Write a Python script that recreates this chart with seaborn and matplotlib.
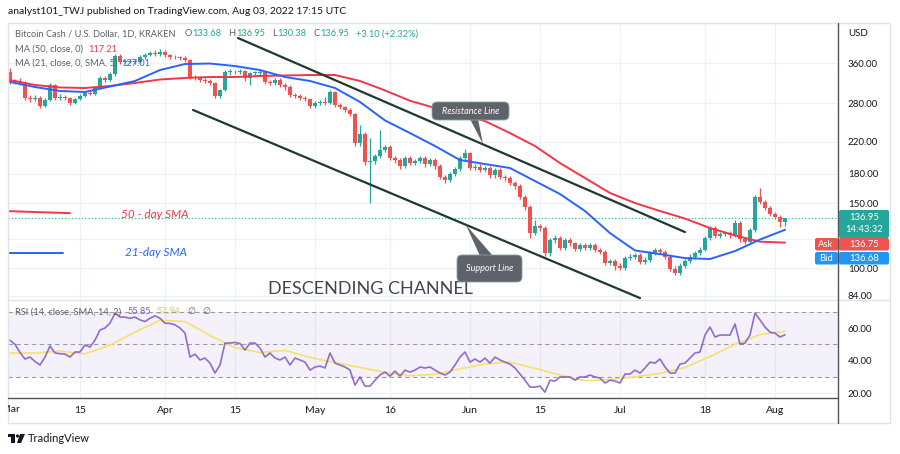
import numpy as np
import pandas as pd
import seaborn as sns
import matplotlib.pyplot as plt
from matplotlib.patches import FancyBboxPatch, Polygon, Rectangle, Circle
from matplotlib.lines import Line2D
from matplotlib.transforms import IdentityTransform, Bbox
from matplotlib.ticker import FixedLocator, NullLocator

# ---- data (BCH/USD daily) ----
start_date = '2022-03-01'
first_open = 340.4
closes = [
    319.8, 321.8, 317.8, 289.4, 287.6, 289.4, 275.3, 285.8, 313.8, 289.4,
    291.2, 289.4, 280.5, 287.6, 293.0, 298.5, 296.7, 308.0, 327.9, 323.8,
    336.1, 376.0, 362.3, 363.0, 364.5, 362.3, 373.7, 378.4, 383.2, 380.8,
    385.6, 378.4, 373.7, 373.0, 371.4, 366.8, 329.9, 328.0, 323.8, 321.8,
    317.8, 293.0, 304.2, 340.4, 341.0, 340.0, 342.5, 327.9, 338.2, 338.5,
    340.4, 319.8, 317.8, 323.8, 313.8, 309.9, 294.8, 293.0, 289.4, 287.6,
    275.3, 280.5, 282.2, 280.5, 300.4, 277.0, 273.6, 268.5, 261.9, 218.4,
    231.0, 193.9, 195.1, 201.3, 209.0, 213.0, 198.8, 196.4, 189.1, 198.8,
    192.7, 195.1, 198.8, 191.5, 196.4, 189.1, 176.6, 173.3, 179.9, 185.6,
    198.8, 205.1, 186.8, 188.0, 184.5, 186.8, 178.8, 184.5, 176.6, 175.5,
    170.1, 166.9, 155.8, 146.4, 124.4, 130.0, 128.4, 109.8, 119.1, 120.6,
    113.3, 119.1, 116.9, 112.6, 115.8, 113.3, 115.4, 111.9, 110.5, 103.1,
    104.4, 101.3, 100.0, 106.4, 107.1, 108.5, 103.8, 105.1, 109.8, 111.9,
    110.5, 107.1, 99.4, 96.9, 101.3, 104.4, 107.1, 109.8, 111.9, 120.6,
    128.4, 122.1, 123.6, 124.4, 122.9, 132.4, 119.8, 117.6, 126.8, 155.8,
    151.4, 145.5, 140.1, 137.9, 133.68, 136.95]
highs = [
    349, 326, 327, 322, 294, 294, 293, 289, 318, 316,
    296, 294, 292, 290, 296, 302, 303, 311, 331, 333,
    340, 381, 380, 368, 369, 369, 378, 383, 389, 390,
    392, 390, 382, 378, 377, 375, 369, 334, 331, 327,
    326, 320, 307, 344, 346, 345, 347, 345, 341, 343,
    345, 343, 323, 327, 327, 317, 313, 298, 296, 293,
    290, 284, 286, 291, 304, 303, 280, 276, 271, 264,
    244, 234, 225, 204, 237, 216, 216, 202, 199, 202,
    201, 198, 202, 201, 199, 199, 191, 179, 182, 188,
    201, 210, 207, 191, 191, 189, 189, 187, 187, 179,
    178, 172, 169, 158, 148, 135, 132, 130, 121, 123,
    122, 121, 121, 118, 117, 117, 117, 117, 113, 112,
    106, 106, 103, 108, 109, 110, 110, 107, 111.5, 113.5,
    113.5, 112, 108.5, 101, 103, 106, 109, 111.5, 114, 122.5,
    130, 130, 125.5, 126, 126, 135, 134, 121.5, 128.5, 158,
    165, 153, 147.5, 142, 139.5, 136.95]
lows = [
    315, 316, 313, 285, 283, 284, 271, 273, 284, 286,
    286, 285, 277, 278, 285, 291, 294, 294, 306, 320,
    321, 333, 358, 359, 359, 358, 359, 370, 375, 377,
    377, 374, 370, 369, 367, 362, 326, 324, 319, 317,
    313, 289, 290, 302, 334, 336, 336, 322, 313, 334,
    335, 316, 313, 314, 310, 305, 291, 289, 285, 284,
    271, 272, 277, 277, 278, 274, 270, 265, 258, 214,
    215, 190, 150, 192, 199, 206, 196, 193, 186, 187,
    190, 190, 193, 188, 189, 186, 174, 170, 171, 178,
    183, 196, 184, 184, 182, 182, 176, 176, 174, 172,
    168, 164, 154, 144, 121, 123, 126, 108, 108, 117,
    112, 112, 115, 111, 111, 112, 112, 110.5, 109, 102,
    102, 99, 98.8, 99, 105, 106, 102.5, 102.5, 104, 108.5,
    109, 105.5, 98, 95.5, 95.7, 100, 103, 106, 108.5, 111,
    119.5, 120.5, 120.5, 122, 121, 121.5, 118, 116, 116.5, 125.5,
    149, 143.5, 138.5, 135.5, 129, 130.38]

ma_days = list(range(0, 156, 5))
ma50 = [323.8, 313.8, 309.0, 308.0, 311.9, 317.8, 324.8, 327.9, 329.9, 329.9,
        332.0, 333.0, 334.0, 334.0, 321.8, 303.4, 284.4, 271.9, 261.9, 250.5,
        232.4, 214.3, 192.7, 175.5, 159.8, 150.1, 142.8, 136.2, 128.4, 122.6,
        117.9, 117.21]
ma21 = [319.8, 309.9, 302.3, 300.4, 310.9, 321.8, 344.6, 357.8, 358.9, 353.3,
        344.6, 329.9, 321.8, 308.0, 282.2, 251.5, 232.4, 214.3, 196.4, 191.5,
        186.8, 172.2, 158.8, 142.8, 124.4, 111.6, 109.1, 106.4, 105.8, 111.2,
        119.5, 127.01]

rsi = [
    52.5, 50.0, 45.0, 41.0, 42.2, 39.5, 37.3, 42.2, 49.0, 44.7,
    44.3, 44.0, 42.2, 45.3, 45.3, 49.6, 48.3, 52.6, 58.8, 60.0,
    63.0, 69.2, 66.7, 66.7, 66.0, 66.7, 65.0, 64.0, 66.0, 67.5,
    66.0, 63.0, 62.8, 62.0, 60.0, 56.9, 42.2, 44.0, 40.4, 41.6,
    38.5, 32.4, 37.3, 50.8, 50.8, 51.2, 50.5, 46.5, 50.8, 50.8,
    47.7, 42.2, 44.7, 41.6, 40.4, 42.2, 37.3, 41.6, 40.4, 39.1,
    34.2, 36.1, 36.7, 35.5, 44.7, 38.5, 37.3, 36.1, 34.2, 25.0,
    30.0, 24.4, 24.4, 28.0, 31.2, 33.0, 30.5, 33.6, 30.5, 34.2,
    33.0, 34.2, 36.1, 35.5, 36.1, 34.2, 32.4, 31.2, 33.0, 37.3,
    42.2, 45.3, 39.1, 41.0, 39.1, 41.6, 38.5, 42.2, 40.4, 39.1,
    37.9, 35.5, 31.8, 28.0, 23.8, 23.8, 24.4, 20.7, 28.0, 27.5,
    30.0, 30.0, 30.0, 28.0, 30.0, 30.0, 31.2, 30.0, 29.3, 26.3,
    28.0, 27.5, 26.3, 31.8, 31.8, 34.2, 32.4, 35.5, 39.1, 38.5,
    41.0, 36.1, 32.4, 32.4, 37.9, 38.5, 41.6, 44.7, 45.3, 55.7,
    60.6, 54.5, 55.7, 55.7, 55.7, 62.5, 50.2, 50.8, 55.7, 69.2,
    65.0, 60.6, 57.5, 56.9, 54.5, 55.85]
rsi_ma = [44.7, 44.7, 45.8, 44.2, 49.5, 57.5, 64.8, 64.0, 55.5, 48.0,
          45.0, 46.3, 42.0, 38.8, 35.8, 32.8, 30.8, 31.6, 35.0, 38.0,
          39.1, 35.3, 31.2, 27.7, 28.4, 30.1, 32.2, 35.8, 42.5, 50.0,
          56.0, 57.94]

tick_dates = ['2022-03-15', '2022-04-01', '2022-04-15', '2022-05-01', '2022-05-16',
              '2022-06-01', '2022-06-15', '2022-07-01', '2022-07-18', '2022-08-01']
tick_labels = ['15', 'Apr', '15', 'May', '16', 'Jun', '15', 'Jul', '18', 'Aug']
price_ticks = [84, 100, 120, 150, 180, 220, 280, 360]
# the 120.00 label sits under the Ask tag in the original, so it is left blank
price_labels = ['84.00', '100.00', '', '150.00', '180.00', '220.00', '280.00', '360.00']
rsi_ticks = [20, 40, 60]
rsi_levels = [30, 50, 70]

# drawings (day index, price)
resistance_days = [45.6, 135]
resistance_px = [420.9, 125.2]
support_days = [36.6, 126]
support_px = [268.5, 82.9]
sma50_mark_days = [-0.4, 12]
sma50_mark_px = [142.7, 140.9]
sma21_mark_days = [-0.4, 10.6]
sma21_mark_px = [109.8, 109.8]

last_price = 136.95
ask_price = 136.75
bid_price = 136.68

UP = '#26a69a'
DN = '#ef5350'
RED = '#f23645'
BLUE = '#2962ff'
PURPLE = '#7e57c2'
YELLOW = '#f5e26b'
GRID = '#eef1f6'
TXT = '#131722'
GRAYTXT = '#5d606b'
LINE = '#1c3a2e'

sns.set_theme(style='white')
plt.rcParams['font.family'] = ['Lato', 'DejaVu Sans']

W, H = 900, 454
fig = plt.figure(figsize=(9, 4.54), dpi=100)
fig.patch.set_facecolor('white')
ax = fig.add_axes([8 / W, 1 - 300 / H, 830 / W, 277 / H])
ax2 = fig.add_axes([8 / W, 1 - 398 / H, 830 / W, 98 / H], sharex=ax)
I = IdentityTransform()
R = fig.canvas.get_renderer()


def Y(y):
    return H - y


def text_row(x, y, pieces, size):
    # place coloured pieces one after the other on a line
    for s, col, gap in pieces:
        t = fig.text(x, Y(y), s, transform=I, va='center', fontsize=size, color=col)
        x += t.get_window_extent(R).width + gap


start = pd.Timestamp(start_date)
tick_days = [(pd.Timestamp(d) - start).days for d in tick_dates]

# ---- price panel ----
ax.set_yscale('log')
days = np.arange(len(closes))
c = np.array(closes)
o = np.r_[first_open, c[:-1]]
colors = np.where(c >= o, UP, DN)
lo_b = np.minimum(o, c)
hi_b = np.maximum(o, c)
ax.vlines(days, lows, highs, colors=colors, linewidth=0.9, zorder=3)
ax.bar(days, np.maximum(hi_b - lo_b, lo_b * 0.004), bottom=lo_b, width=0.72,
       color=colors, linewidth=0, zorder=4)

sns.lineplot(x=ma_days, y=ma50, ax=ax, color=RED, linewidth=1.4, zorder=5)
sns.lineplot(x=ma_days, y=ma21, ax=ax, color=BLUE, linewidth=1.4, zorder=5)
ax.plot(resistance_days, resistance_px, color=LINE, lw=1.6, zorder=6)
ax.plot(support_days, support_px, color=LINE, lw=1.6, zorder=6)
ax.plot(sma50_mark_days, sma50_mark_px, color=RED, lw=1.4, zorder=6)
ax.plot(sma21_mark_days, sma21_mark_px, color=BLUE, lw=1.4, zorder=6)
ax.axhline(last_price, color=UP, lw=0.8, ls=(0, (1, 2)), zorder=2)

for p in price_ticks:
    ax.axhline(p, color=GRID, lw=0.9, zorder=0)
for d in tick_days:
    ax.axvline(d, color=GRID, lw=0.9, zorder=0)
    ax2.axvline(d, color=GRID, lw=0.9, zorder=0)

ax.set_xlim(-0.4, 165.6)
ax.set_ylim(81.9, 462.3)
ax.yaxis.set_major_locator(FixedLocator(price_ticks))
ax.yaxis.set_minor_locator(NullLocator())
ax.set_yticklabels(price_labels)
ax.yaxis.tick_right()
ax.tick_params(axis='y', length=0, pad=7, labelsize=7, labelcolor=TXT)
ax.tick_params(axis='x', length=0, labelbottom=False)
ax.set_xlabel('')
ax.set_ylabel('')

# ---- RSI panel ----
ax2.axhspan(30, 70, color=PURPLE, alpha=0.08, lw=0, zorder=0)
for r in rsi_ticks:
    ax2.axhline(r, color=GRID, lw=0.9, zorder=0)
for r in rsi_levels:
    ax2.axhline(r, color='#9a9ca3', lw=0.8, ls=(0, (4, 3)), zorder=1)
sns.lineplot(x=ma_days, y=rsi_ma, ax=ax2, color=YELLOW, linewidth=1.2, zorder=3)
sns.lineplot(x=days, y=rsi, ax=ax2, color=PURPLE, linewidth=1.2, alpha=0.85, zorder=4)
ax2.set_ylim(17.1, 77.2)
ax2.yaxis.set_major_locator(FixedLocator(rsi_ticks))
ax2.set_yticklabels([f'{r:.2f}' for r in rsi_ticks])
ax2.yaxis.tick_right()
ax2.tick_params(axis='y', length=0, pad=7, labelsize=7, labelcolor=TXT)
ax2.set_xticks(tick_days)
ax2.set_xticklabels(tick_labels)
ax2.tick_params(axis='x', length=0, pad=6, labelsize=7.5, labelcolor=TXT)
ax2.set_xlim(-0.4, 165.6)
ax2.set_xlabel('')
ax2.set_ylabel('')

for a in (ax, ax2):
    for s in a.spines.values():
        s.set_visible(False)

# ---- frame lines ----
fig.add_artist(Rectangle((8, Y(423)), 882, 400, transform=I, fill=False,
                         ec='#e0e3eb', lw=1))
fig.add_artist(Line2D([8, 890], [Y(300), Y(300)], transform=I, color='#e0e3eb', lw=1))
fig.add_artist(Line2D([8, 838], [Y(398), Y(398)], transform=I, color='#50535e', lw=1))
fig.add_artist(Line2D([838, 838], [Y(23), Y(423)], transform=I, color='#50535e', lw=1))

mar = fig.text(10, Y(410), 'Mar', transform=I, ha='center', va='center',
               fontsize=7.5, color=TXT)
mar.set_clip_box(Bbox.from_extents(8, 0, 900, 454))
mar.set_clip_on(True)

# ---- texts ----
fig.text(8, Y(12), 'analyst101_TWJ published on TradingView.com, Aug 03, 2022 17:15 UTC',
         transform=I, va='center', fontsize=7.5, color=TXT)

text_row(15, 34, [('Bitcoin Cash / U.S. Dollar, 1D, KRAKEN', GRAYTXT, 9),
                  ('O', GRAYTXT, 0.5), ('133.68', UP, 7),
                  ('H', GRAYTXT, 0.5), ('136.95', UP, 7),
                  ('L', GRAYTXT, 0.5), ('130.38', UP, 7),
                  ('C', GRAYTXT, 0.5), ('136.95', UP, 7),
                  ('+3.10 (+2.32%)', UP, 0)], 6.7)
text_row(15, 49, [('MA (50, close, 0)', GRAYTXT, 5), ('117.21', RED, 0)], 6.7)
text_row(15, 63, [('MA (21, close, 0, SMA, 5)', GRAYTXT, 4), ('127.01', BLUE, 0)], 6.7)
text_row(15, 312, [('RSI (14, close, SMA, 14, 2)', GRAYTXT, 6), ('55.85', PURPLE, 6),
                   ('57.94', '#e8cf3a', 7), ('\u2205', GRAYTXT, 7), ('\u2205', GRAYTXT, 0)],
         6.7)

fig.text(848, Y(33), 'USD', transform=I, va='center', fontsize=7, color=TXT)

fig.text(155, Y(215), '50 - day SMA', transform=I, ha='center', va='center',
         fontsize=8.5, style='italic', color=RED)
fig.text(156, Y(253), '21-day SMA', transform=I, ha='center', va='center',
         fontsize=8.5, style='italic', color=BLUE)
fig.text(371, Y(289), 'DESCENDING CHANNEL', transform=I, ha='center', va='center',
         fontsize=13, color='#434651')

# callouts
for (bx, by, bw, bh), tri, label in [
        ((432, 102, 77, 18), [(470, 119), (478, 119), (483, 144)], 'Resistance Line'),
        ((457, 255, 65, 27), [(480, 256), (493, 256), (466, 225)], 'Support Line')]:
    fig.add_artist(Polygon([(x, Y(y)) for x, y in tri], closed=True, transform=I,
                           fc='#5f6269', ec='none', zorder=5))
    fig.add_artist(FancyBboxPatch((bx, Y(by + bh)), bw, bh, transform=I,
                                  boxstyle='round,pad=0,rounding_size=5',
                                  fc='#5f6269', ec='#7fa8a3', lw=0.6, zorder=5))
    fig.text(bx + bw / 2, Y(by + bh / 2), label, transform=I, ha='center', va='center',
             fontsize=6.5, style='italic', color='white', zorder=6)


# price tags on the right axis
def tag(x0, y0, w, h, col):
    fig.add_artist(FancyBboxPatch((x0, Y(y0 + h)), w, h, transform=I,
                                  boxstyle='round,pad=0,rounding_size=2',
                                  fc=col, ec='none', zorder=5))


tag(839, 210, 50, 28, UP)
fig.text(864, Y(217.5), f'{last_price:.2f}', transform=I, ha='center', va='center',
         fontsize=6.8, color='white', zorder=6)
fig.text(864, Y(229.5), '14:43:32', transform=I, ha='center', va='center',
         fontsize=6.8, color='white', zorder=6)
tag(815, 238, 23, 12.5, DN)
tag(839, 238, 50, 12.5, DN)
fig.text(826, Y(244.5), 'Ask', transform=I, ha='center', va='center', fontsize=6.8,
         color='white', zorder=6)
fig.text(864, Y(244.5), f'{ask_price:.2f}', transform=I, ha='center', va='center',
         fontsize=6.8, color='white', zorder=6)
tag(815, 252, 23, 12.5, '#2196f3')
tag(839, 252, 50, 12.5, '#2196f3')
fig.text(826, Y(258.5), 'Bid', transform=I, ha='center', va='center', fontsize=6.8,
         color='white', zorder=6)
fig.text(864, Y(258.5), f'{bid_price:.2f}', transform=I, ha='center', va='center',
         fontsize=6.8, color='white', zorder=6)

# TradingView logo
fig.add_artist(Rectangle((8, Y(437)), 7, 3, transform=I, fc=TXT, ec='none'))
fig.add_artist(Rectangle((11, Y(443)), 4, 9, transform=I, fc=TXT, ec='none'))
fig.add_artist(Circle((17.5, Y(436)), 1.6, transform=I, fc=TXT, ec='none'))
fig.add_artist(Polygon([(20, Y(434)), (25, Y(434)), (21, Y(443)), (17, Y(443))],
                       closed=True, transform=I, fc=TXT, ec='none'))
fig.text(28, Y(438.5), 'TradingView', transform=I, va='center', fontsize=8, color=TXT)

plt.savefig('out.png', dpi=100)
